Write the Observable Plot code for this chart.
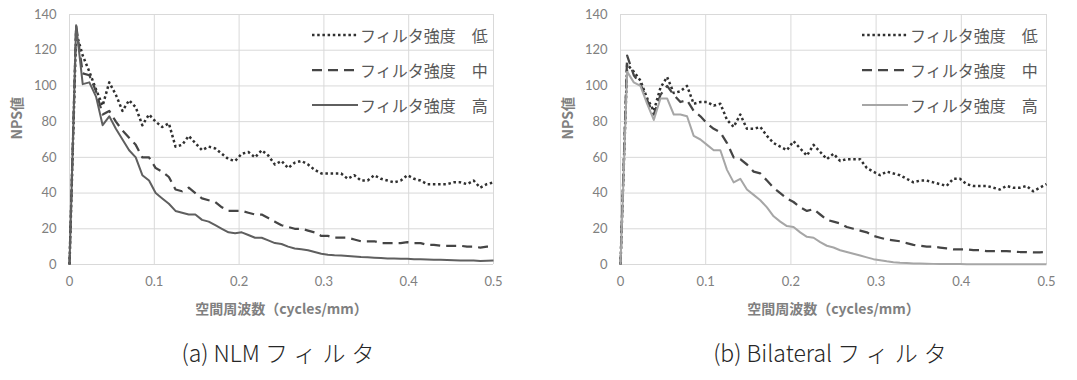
<!DOCTYPE html>
<html><head><meta charset="utf-8">
<script src="https://cdn.jsdelivr.net/npm/d3@7"></script>
<script src="https://cdn.jsdelivr.net/npm/@observablehq/plot@0.6"></script>
<style>
body{margin:0;background:#fff;}
#wrap{position:relative;width:1077px;height:380px;overflow:hidden;}
.panel{position:absolute;top:0;height:380px;}
.caption{position:absolute;top:335px;line-height:34px;text-align:center;font-family:"Noto Sans CJK JP","Noto Sans",sans-serif;font-size:23px;font-weight:300;color:#262626;white-space:nowrap;}
.caption .kana{letter-spacing:6px;}
.legrow{position:absolute;height:24px;display:flex;align-items:center;font-family:"Noto Sans CJK JP",sans-serif;font-size:16px;color:#595959;white-space:nowrap;}
.legrow svg{display:block;margin-right:2px;}
</style></head>
<body><div id="wrap"></div>
<script>
// spatial frequency (cycles/mm)
const freq = [0, 0.0078, 0.0156, 0.0234, 0.0313, 0.0391, 0.0469, 0.0547,
  0.0625, 0.0703, 0.0781, 0.0859, 0.0938, 0.1016, 0.1094, 0.1172,
  0.125, 0.1328, 0.1406, 0.1484, 0.1563, 0.1641, 0.1719, 0.1797,
  0.1875, 0.1953, 0.2031, 0.2109, 0.2188, 0.2266, 0.2344, 0.2422,
  0.25, 0.2578, 0.2656, 0.2734, 0.2813, 0.2891, 0.2969, 0.3047,
  0.3125, 0.3203, 0.3281, 0.3359, 0.3438, 0.3516, 0.3594, 0.3672,
  0.375, 0.3828, 0.3906, 0.3984, 0.4063, 0.4141, 0.4219, 0.4297,
  0.4375, 0.4453, 0.4531, 0.4609, 0.4688, 0.4766, 0.4844, 0.4922, 0.5];

// (a) NLM filter
const nlmLow = [0, 130, 117, 108, 98, 89, 102, 95,
  86, 92, 88, 78, 84, 80, 77, 79,
  66, 67, 72, 68, 64, 66, 65, 62,
  59, 58, 62, 63, 60, 64, 61, 56,
  58, 54, 57, 58, 56, 53, 51, 51,
  51, 51, 48, 50, 47, 47, 50, 48,
  47, 46, 47, 50, 48, 47, 45, 45,
  45, 45, 46, 46, 45, 47, 43, 45, 46];
const nlmMid = [0, 134, 107, 106, 97, 84, 86, 80,
  75, 71, 67, 60, 60, 54, 52, 49,
  42, 41, 43, 40, 37, 36, 35, 32,
  30, 30, 30, 29, 28, 28, 26, 24,
  22, 21, 20, 20, 19, 18, 16, 16,
  15, 15, 15, 14, 13, 13, 13, 12,
  12, 12, 12, 12.5, 12, 12, 11, 11,
  10.5, 10.5, 10.5, 10.5, 10, 10, 9.5, 10, 10];
const nlmHigh = [0, 134, 101, 102, 94, 78, 83, 76,
  70, 64, 60, 50, 47, 40, 37, 34,
  30, 29, 28, 28, 25, 24, 22, 20,
  18, 17.5, 18, 16.5, 15, 15, 13.5, 12,
  11.5, 10, 9, 8.5, 8, 7, 6, 5.5,
  5.2, 5, 4.8, 4.5, 4.2, 4, 3.8, 3.6,
  3.4, 3.3, 3.2, 3.2, 3.0, 2.9, 2.8, 2.7,
  2.6, 2.5, 2.4, 2.3, 2.3, 2.2, 2.0, 2.1, 2.2];

// (b) Bilateral filter
const bilLow = [0, 112, 108, 103, 93, 86, 99, 105,
  96, 97, 100, 90, 91, 91, 89, 90,
  81, 77, 84, 76, 76, 77, 72, 68,
  66, 64, 69, 65, 61, 67, 63, 59,
  62, 58, 59, 59, 59, 54, 52, 50,
  52, 51, 50, 48, 46, 47, 47, 46,
  45, 44, 48, 48, 45, 44, 44, 44,
  43, 42, 44, 43, 43, 44, 41, 43, 45];
const bilMid = [0, 117, 106, 101, 92, 84, 95, 100,
  95, 91, 92, 86, 83, 79, 76, 74,
  68, 60, 59, 56, 52, 51, 47, 43,
  40, 37, 35, 32, 30, 31, 28, 25,
  24, 23, 21, 20, 19, 18, 16, 15,
  14, 13.5, 13, 12, 11, 10.5, 10, 10,
  9.5, 9, 8.5, 8.5, 8.5, 8, 8, 7.5,
  7.5, 7.5, 7.5, 7.2, 7, 7, 6.8, 6.8, 7];
const bilHigh = [0, 108, 102, 100, 90, 81, 93, 93,
  84, 84, 83, 72, 70, 67, 64, 64,
  53, 46, 48, 42, 39, 36, 32, 27,
  24, 21.5, 21, 18, 15.5, 15, 12.5, 10.5,
  9.5, 8, 7, 6, 5, 4, 3, 2.4,
  1.8, 1.3, 1, 0.8, 0.6, 0.5, 0.4, 0.35,
  0.3, 0.3, 0.25, 0.25, 0.2, 0.2, 0.2, 0.2,
  0.15, 0.15, 0.15, 0.15, 0.1, 0.1, 0.1, 0.1, 0.1];

const xTicks = [0, 0.1, 0.2, 0.3, 0.4, 0.5];
const xTickLabels = ["0", "0.1", "0.2", "0.3", "0.4", "0.5"];
const yTicks = [0, 20, 40, 60, 80, 100, 120, 140];
const seriesNames = ["フィルタ強度　低", "フィルタ強度　中", "フィルタ強度　高"];
const xTitle = "空間周波数（cycles/mm）";
const yTitle = "NPS値";
const captions = [["(a) NLM ", "フィルタ"], ["(b) Bilateral ", "フィルタ"]];

const rows = arr => freq.map((f, i) => ({f, v: arr[i]}));

function makePanel(vals, styles, opt) {
  const tickFont = "Lato, 'Open Sans', sans-serif";
  const marks = [
    Plot.gridX(xTicks, {stroke: "#d9d9d9", strokeOpacity: 1, strokeWidth: 1}),
    Plot.gridY(yTicks, {stroke: "#d9d9d9", strokeOpacity: 1, strokeWidth: 1}),
    Plot.axisX(xTicks, {tickSize: 0, tickPadding: 12, tickFormat: (d, i) => xTickLabels[i], label: null, fill: "#808080", fontSize: 13, fontFamily: tickFont}),
    Plot.axisY(yTicks, {tickSize: 0, tickPadding: 13, label: null, fill: "#808080", fontSize: 13, fontFamily: tickFont}),
    Plot.text([xTitle], {text: d => d, frameAnchor: "bottom", dy: 49, fill: "#808080", fontSize: 14, fontWeight: "bold", fontFamily: "'Noto Sans CJK JP', sans-serif"}),
    Plot.text([yTitle], {text: d => d, frameAnchor: "left", rotate: -90, dx: -52, fill: "#808080", fontSize: 14, fontWeight: "bold", fontFamily: "'Noto Sans CJK JP', sans-serif"})
  ];
  vals.forEach((arr, k) => {
    const s = styles[k];
    marks.push(Plot.line(rows(arr), {x: "f", y: "v", stroke: s.stroke, strokeWidth: s.width, strokeDasharray: s.dash, strokeLinecap: "butt", strokeLinejoin: "round"}));
  });
  return Plot.plot({
    width: opt.width, height: 335,
    marginLeft: opt.ml, marginRight: opt.mr, marginTop: 14, marginBottom: 71,
    x: {domain: [0, 0.5]},
    y: {domain: [0, 140]},
    style: {background: "white", overflow: "visible"},
    marks
  });
}

const styles1 = [
  {stroke: "#303030", width: 2.5, dash: "2.5 2.7"},
  {stroke: "#454545", width: 2.25, dash: "10 6"},
  {stroke: "#5f5f5f", width: 2, dash: null}
];
const styles2 = [
  {stroke: "#303030", width: 2.5, dash: "2.5 2.7"},
  {stroke: "#454545", width: 2.25, dash: "10 6"},
  {stroke: "#a6a6a6", width: 2, dash: null}
];

const wrap = document.getElementById("wrap");
const panels = [
  {left: 0, width: 538, ml: 69, mr: 45, vals: [nlmLow, nlmMid, nlmHigh], styles: styles1, legX: 312},
  {left: 540, width: 537, ml: 80, mr: 31, vals: [bilLow, bilMid, bilHigh], styles: styles2, legX: 322}
];
const legY = [35, 70, 105];
panels.forEach((p, idx) => {
  const div = document.createElement("div");
  div.className = "panel";
  div.style.left = p.left + "px";
  div.style.width = p.width + "px";
  div.appendChild(makePanel(p.vals, p.styles, p));
  // legend
  p.styles.forEach((s, k) => {
    const r = document.createElement("div");
    r.className = "legrow";
    r.style.left = p.legX + "px";
    r.style.top = (legY[k] - 12) + "px";
    r.innerHTML = `<svg width="46" height="6"><line x1="0" x2="46" y1="3" y2="3" stroke="${s.stroke}" stroke-width="${s.width}" ${s.dash ? `stroke-dasharray="${s.dash}"` : ""}/></svg><span>${seriesNames[k]}</span>`;
    div.appendChild(r);
  });
  const cap = document.createElement("div");
  cap.className = "caption";
  cap.style.left = p.ml + "px";
  cap.style.width = (p.width - p.ml - p.mr) + "px";
  cap.innerHTML = `${captions[idx][0]}<span class="kana">${captions[idx][1]}</span>`;
  div.appendChild(cap);
  wrap.appendChild(div);
});
</script></body></html>
